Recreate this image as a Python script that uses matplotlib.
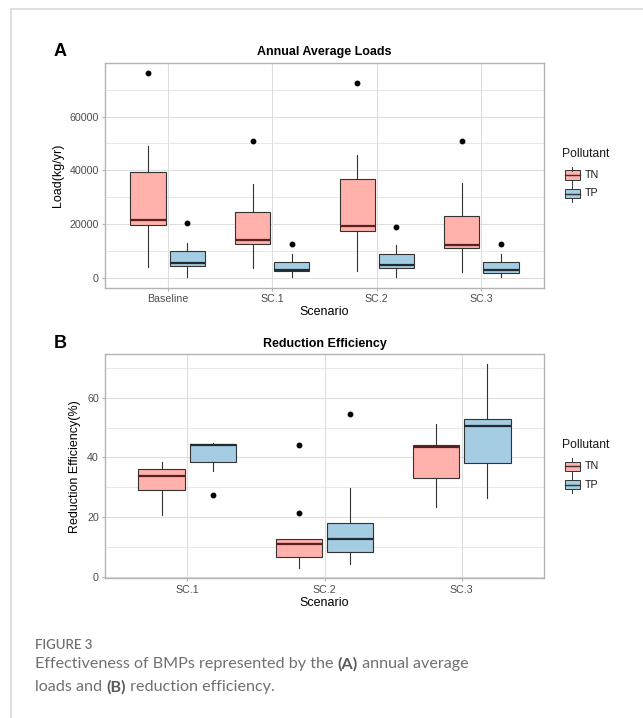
import matplotlib
matplotlib.use("Agg")
import matplotlib.pyplot as plt
from matplotlib.lines import Line2D
from matplotlib.patches import Rectangle

W, H = 643, 718

# ---- data (box stats: whislo, q1, med, q3, whishi, fliers) ----
scen_a = ["Baseline", "SC.1", "SC.2", "SC.3"]
tn_a_lo = [4200, 3600, 2600, 2400]
tn_a_q1 = [19850, 12540, 17380, 11170]
tn_a_med = [21490, 14150, 19370, 12290]
tn_a_q3 = [39220, 24360, 36760, 23010]
tn_a_hi = [48900, 34900, 45700, 35270]
tn_a_out = [[76240], [50770], [72380], [51030]]

tp_a_lo = [480, 260, 370, 370]
tp_a_q1 = [4580, 2610, 3600, 1970]
tp_a_med = [5470, 2980, 4720, 2860]
tp_a_q3 = [10060, 5840, 8940, 5840]
tp_a_hi = [13150, 8820, 12170, 8820]
tp_a_out = [[20480], [12540], [18870], [12540]]

scen_b = ["SC.1", "SC.2", "SC.3"]
tn_b_lo = [20.7, 3.1, 23.3]
tn_b_q1 = [29.1, 6.6, 33.1]
tn_b_med = [33.9, 10.9, 43.4]
tn_b_q3 = [36.0, 12.6, 44.2]
tn_b_hi = [38.6, 12.7, 51.1]
tn_b_out = [[], [21.4, 44.2], []]

tp_b_lo = [35.3, 4.5, 26.4]
tp_b_q1 = [38.6, 8.3, 38.2]
tp_b_med = [44.2, 12.7, 50.4]
tp_b_q3 = [44.6, 18.1, 52.9]
tp_b_hi = [44.9, 29.9, 71.2]
tp_b_out = [[27.4], [54.6], []]

TN_FILL = "#FFB1AC"
TP_FILL = "#A4CCE2"
EDGE = "#333333"
GRID = "#DEDEDE"
BORDER = "#B3B3B3"
TXT = "#4D4D4D"

plt.rcParams["font.family"] = ["Liberation Sans", "DejaVu Sans"]


def fx(px):
    return px / W


def fy(py):
    return 1 - py / H


def stats(lo, q1, med, q3, hi, out):
    return [dict(whislo=a, q1=b, med=c, q3=d, whishi=e, fliers=f)
            for a, b, c, d, e, f in zip(lo, q1, med, q3, hi, out)]


def draw_boxes(ax, st, offset, fill, med_col):
    pos = [i + 1 + offset for i in range(len(st))]
    ax.bxp(st, positions=pos, widths=0.3375, patch_artist=True, showcaps=False,
           boxprops=dict(facecolor=fill, edgecolor=EDGE, linewidth=0.8),
           whiskerprops=dict(color=EDGE, linewidth=0.8),
           medianprops=dict(color=med_col, linewidth=1.6),
           flierprops=dict(marker="o", markerfacecolor="black", markeredgecolor="black",
                           markersize=3.2), zorder=3)


def style(ax, cats, major, minor, ylim, ylabel, title, letter):
    ax.set_xlim(0.4, len(cats) + 0.6)
    ax.set_ylim(*ylim)
    ax.set_xticks(range(1, len(cats) + 1))
    ax.set_xticklabels(cats)
    ax.set_yticks(major)
    ax.set_yticks(minor, minor=True)
    ax.set_xticks([], minor=True)
    ax.grid(True, which="major", color=GRID, linewidth=0.8, zorder=0)
    ax.grid(True, which="minor", axis="y", color=GRID, linewidth=0.5, zorder=0)
    ax.set_axisbelow(True)
    for s in ax.spines.values():
        s.set_color(BORDER)
        s.set_linewidth(1.0)
    ax.tick_params(which="major", length=2.5, color=BORDER, labelsize=7.7,
                   labelcolor=TXT, pad=2)
    ax.tick_params(which="minor", length=0)
    ax.set_xlabel("Scenario", fontsize=9, labelpad=1.5)
    ax.set_ylabel(ylabel, fontsize=9, labelpad=4)
    ax.set_title(title, fontsize=9, fontweight="bold", pad=5.5)
    pos = ax.get_position()
    fig.text(fx(60), pos.y1 + (63 - 52) / H, letter, fontsize=13, fontweight="bold",
             ha="center", va="center")


def legend(ytop):
    fig.text(fx(562), fy(ytop), "Pollutant", fontsize=8.7, ha="left", va="center",
             color="#1a1a1a")
    for k, (lab, fill) in enumerate([("TN", TN_FILL), ("TP", TP_FILL)]):
        yc = ytop + 21 + k * 18.5
        x0, x1 = 564.5, 579.5
        fig.add_artist(Rectangle((fx(x0), fy(yc + 4.5)), fx(x1) - fx(x0), 9 / H,
                                 facecolor=fill, edgecolor=EDGE, linewidth=0.7,
                                 transform=fig.transFigure))
        fig.add_artist(Line2D([fx(x0), fx(x1)], [fy(yc), fy(yc)], color=EDGE,
                              linewidth=1.0, transform=fig.transFigure))
        xm = (x0 + x1) / 2
        fig.add_artist(Line2D([fx(xm), fx(xm)], [fy(yc - 8.5), fy(yc - 4.5)], color=EDGE,
                              linewidth=0.7, transform=fig.transFigure))
        fig.add_artist(Line2D([fx(xm), fx(xm)], [fy(yc + 4.5), fy(yc + 8.5)], color=EDGE,
                              linewidth=0.7, transform=fig.transFigure))
        fig.text(fx(585), fy(yc), lab, fontsize=7.7, ha="left", va="center",
                 color="#1a1a1a")


fig = plt.figure(figsize=(W / 100, H / 100), dpi=100)

# page frame
fig.add_artist(Line2D([fx(11), fx(11)], [0, fy(9)], color="#D9D9D9", linewidth=1.2))
fig.add_artist(Line2D([fx(11), 1], [fy(9), fy(9)], color="#D9D9D9", linewidth=1.2))

axA = fig.add_axes([fx(105), fy(288), fx(544) - fx(105), (288 - 63) / H])
draw_boxes(axA, stats(tn_a_lo, tn_a_q1, tn_a_med, tn_a_q3, tn_a_hi, tn_a_out), -0.1875,
           TN_FILL, "#5a1f1f")
draw_boxes(axA, stats(tp_a_lo, tp_a_q1, tp_a_med, tp_a_q3, tp_a_hi, tp_a_out), 0.1875,
           TP_FILL, "#1f2a33")
style(axA, scen_a, [0, 20000, 40000, 60000], [10000, 30000, 50000, 70000],
      (-3700, 79900), "Load(kg/yr)", "Annual Average Loads", "A")
legend(154)

axB = fig.add_axes([fx(105), fy(578.3), fx(544) - fx(105), (578.3 - 354.3) / H])
draw_boxes(axB, stats(tn_b_lo, tn_b_q1, tn_b_med, tn_b_q3, tn_b_hi, tn_b_out), -0.1875,
           TN_FILL, "#5a1f1f")
draw_boxes(axB, stats(tp_b_lo, tp_b_q1, tp_b_med, tp_b_q3, tp_b_hi, tp_b_out), 0.1875,
           TP_FILL, "#1f2a33")
style(axB, scen_b, [0, 20, 40, 60], [10, 30, 50, 70], (-0.45, 74.5),
      "Reduction Efficiency(%)", "Reduction Efficiency", "B")
legend(445)

# caption
CAP = "#707070"
CAP_FONT = ["Lato", "DejaVu Sans"]
fig.text(fx(35), fy(645), "FIGURE 3", fontsize=9.5, color=CAP, family=CAP_FONT,
         fontweight="semibold", va="center")
cap_fs = 11.6
fig.canvas.draw()
r = fig.canvas.get_renderer()


def run(parts, x, y):
    for s, bold in parts:
        t = fig.text(x, y, s, fontsize=cap_fs, color=CAP if not bold else "#5a5a5a",
                     family=CAP_FONT, fontweight="bold" if bold else "normal",
                     va="center")
        bb = t.get_window_extent(renderer=r)
        x = x + bb.width / W


run([("Effectiveness of BMPs represented by the ", False), ("(A)", True),
     (" annual average", False)], fx(35), fy(664))
run([("loads and ", False), ("(B)", True), (" reduction efficiency.", False)], fx(35), fy(687))

fig.savefig("out.png", dpi=100)
